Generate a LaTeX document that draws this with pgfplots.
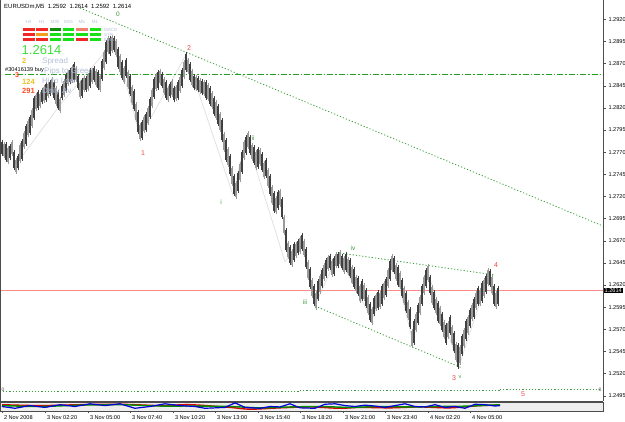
\documentclass[border=0pt]{standalone}
\usepackage{pgfplots}
\pgfplotsset{compat=1.18}
\usepackage{pgfplotstable}
\usepackage{fontspec}
\setmainfont{Liberation Sans}
\definecolor{dotgreen}{HTML}{3CA03C}
\definecolor{dashgreen}{HTML}{22A022}
\definecolor{pinkline}{HTML}{FF8A8A}
\definecolor{lbl}{HTML}{B4C0D8}
\definecolor{bignum}{HTML}{3CE03C}
\definecolor{yel}{HTML}{F0C020}
\definecolor{ored}{HTML}{FF4A20}
\definecolor{wred}{HTML}{F04848}
\definecolor{wgreen}{HTML}{3C9A3C}
\definecolor{pred}{HTML}{F02828}
\definecolor{pdgreen}{HTML}{108A10}
\definecolor{pgreen}{HTML}{18E018}
\definecolor{porange}{HTML}{F0A020}
\definecolor{psalmon}{HTML}{F08070}
\definecolor{barcol}{HTML}{404040}
\definecolor{barcolb}{HTML}{9A9A9A}

% bars (dark)
\pgfplotstableread{
x y e
2 1.27747 0.00072
6 1.27702 0.00088
10 1.27702 0.00072
14 1.27611 0.00088
18 1.27589 0.00072
22 1.27724 0.00100
26 1.27894 0.00100
30 1.28007 0.00088
34 1.28199 0.00112
38 1.28289 0.00088
42 1.28334 0.00072
46 1.28379 0.00088
50 1.28424 0.00072
54 1.28402 0.00088
58 1.28289 0.00088
62 1.28379 0.00072
66 1.28481 0.00088
70 1.28560 0.00072
74 1.28605 0.00088
78 1.28492 0.00072
82 1.28424 0.00088
86 1.28470 0.00072
90 1.28537 0.00088
94 1.28582 0.00072
98 1.28515 0.00088
102 1.28628 0.00100
106 1.28831 0.00112
110 1.28899 0.00088
114 1.28921 0.00072
118 1.28763 0.00100
122 1.28628 0.00088
126 1.28650 0.00088
130 1.28458 0.00100
134 1.28289 0.00100
138 1.28040 0.00112
142 1.27950 0.00088
146 1.28040 0.00088
150 1.28199 0.00100
154 1.28424 0.00100
158 1.28515 0.00088
162 1.28515 0.00072
166 1.28402 0.00088
170 1.28402 0.00072
174 1.28357 0.00072
178 1.28402 0.00088
182 1.28537 0.00088
186 1.28718 0.00090
190 1.28605 0.00088
194 1.28492 0.00072
198 1.28470 0.00072
202 1.28436 0.00072
206 1.28402 0.00088
210 1.28334 0.00088
214 1.28221 0.00088
218 1.28119 0.00100
222 1.27950 0.00112
226 1.27724 0.00112
230 1.27555 0.00100
234 1.27329 0.00100
238 1.27363 0.00100
242 1.27589 0.00112
246 1.27781 0.00090
250 1.27781 0.00088
254 1.27668 0.00088
258 1.27634 0.00100
262 1.27589 0.00088
266 1.27521 0.00088
270 1.27329 0.00100
274 1.27137 0.00100
278 1.27160 0.00088
282 1.27069 0.00100
286 1.26708 0.00112
290 1.26539 0.00088
294 1.26572 0.00088
298 1.26629 0.00072
302 1.26685 0.00080
306 1.26505 0.00100
310 1.26279 0.00100
314 1.26087 0.00100
318 1.26143 0.00100
322 1.26279 0.00088
326 1.26392 0.00088
330 1.26460 0.00072
334 1.26414 0.00088
338 1.26482 0.00072
342 1.26460 0.00072
346 1.26460 0.00088
350 1.26392 0.00088
354 1.26279 0.00100
358 1.26189 0.00088
362 1.26143 0.00100
366 1.26053 0.00088
370 1.25895 0.00090
374 1.25963 0.00088
378 1.26030 0.00088
382 1.26087 0.00100
386 1.26177 0.00088
390 1.26369 0.00100
394 1.26426 0.00080
398 1.26301 0.00100
402 1.26166 0.00088
406 1.26008 0.00100
410 1.25827 0.00100
414 1.25669 0.00120
418 1.25872 0.00100
422 1.26087 0.00100
426 1.26279 0.00090
430 1.26200 0.00088
434 1.26030 0.00088
438 1.25895 0.00100
442 1.25782 0.00088
446 1.25647 0.00100
450 1.25748 0.00088
454 1.25556 0.00100
458 1.25398 0.00120
462 1.25522 0.00100
466 1.25692 0.00100
470 1.25827 0.00088
474 1.25940 0.00100
478 1.26076 0.00088
482 1.26121 0.00100
486 1.26211 0.00088
490 1.26279 0.00075
494 1.26087 0.00100
498 1.26076 0.00088
}\bars

% bars in between (lighter)
\pgfplotstableread{
x y e
4 1.27724 0.00070
8 1.27668 0.00080
12 1.27747 0.00065
16 1.27544 0.00070
20 1.27690 0.00085
24 1.27837 0.00080
28 1.27973 0.00075
32 1.28086 0.00090
36 1.28266 0.00080
40 1.28289 0.00070
44 1.28357 0.00080
48 1.28402 0.00065
52 1.28447 0.00075
56 1.28334 0.00085
60 1.28232 0.00070
64 1.28424 0.00080
68 1.28537 0.00070
72 1.28582 0.00075
76 1.28582 0.00065
80 1.28402 0.00080
84 1.28470 0.00070
88 1.28492 0.00075
92 1.28560 0.00065
96 1.28537 0.00080
100 1.28481 0.00075
104 1.28741 0.00090
108 1.28910 0.00080
112 1.28921 0.00075
116 1.28876 0.00080
120 1.28695 0.00085
124 1.28571 0.00080
128 1.28515 0.00085
132 1.28345 0.00085
136 1.28153 0.00090
140 1.27928 0.00080
144 1.28018 0.00075
148 1.28119 0.00085
152 1.28311 0.00090
156 1.28492 0.00080
160 1.28549 0.00070
164 1.28447 0.00075
168 1.28357 0.00070
172 1.28424 0.00075
176 1.28368 0.00070
180 1.28470 0.00080
184 1.28628 0.00085
188 1.28673 0.00070
192 1.28537 0.00075
196 1.28481 0.00065
200 1.28447 0.00070
204 1.28424 0.00070
208 1.28379 0.00075
212 1.28289 0.00080
216 1.28176 0.00085
220 1.28040 0.00090
224 1.27815 0.00095
228 1.27645 0.00090
232 1.27431 0.00090
236 1.27273 0.00080
240 1.27476 0.00090
244 1.27724 0.00085
248 1.27837 0.00075
252 1.27702 0.00080
256 1.27611 0.00085
260 1.27645 0.00075
264 1.27498 0.00080
268 1.27408 0.00085
272 1.27216 0.00085
276 1.27103 0.00080
280 1.27182 0.00075
284 1.26877 0.00095
288 1.26595 0.00080
292 1.26505 0.00075
296 1.26595 0.00070
300 1.26652 0.00075
304 1.26618 0.00080
308 1.26369 0.00090
312 1.26166 0.00085
316 1.26030 0.00085
320 1.26211 0.00085
324 1.26347 0.00075
328 1.26448 0.00070
332 1.26392 0.00075
336 1.26482 0.00070
340 1.26505 0.00065
344 1.26426 0.00075
348 1.26414 0.00075
352 1.26313 0.00085
356 1.26211 0.00080
360 1.26109 0.00085
364 1.26121 0.00080
368 1.25974 0.00085
372 1.25850 0.00075
376 1.26008 0.00080
380 1.26030 0.00075
384 1.26143 0.00085
388 1.26279 0.00085
392 1.26448 0.00075
396 1.26347 0.00080
400 1.26256 0.00080
404 1.26076 0.00085
408 1.25918 0.00090
412 1.25601 0.00085
416 1.25782 0.00090
420 1.25974 0.00090
424 1.26200 0.00085
428 1.26335 0.00075
432 1.26087 0.00085
436 1.25963 0.00080
440 1.25850 0.00085
444 1.25692 0.00085
448 1.25692 0.00080
452 1.25635 0.00085
456 1.25443 0.00095
460 1.25409 0.00090
464 1.25601 0.00090
468 1.25748 0.00085
472 1.25895 0.00080
476 1.26030 0.00085
480 1.26064 0.00075
484 1.26166 0.00085
488 1.26290 0.00075
492 1.26200 0.00090
496 1.26030 0.00080
}\barsb

\begin{document}
\begin{tikzpicture}
\path[use as bounding box, fill=white] (0pt,0pt) rectangle (625pt,422pt);
% ---------------- main price window ----------------
\begin{axis}[at={(0pt,422pt)}, anchor=north west, scale only axis,
  width=603pt, height=401pt,
  xmin=0, xmax=603, ymin=1.24890, ymax=1.29418,
  axis x line*=bottom, axis y line*=right,
  axis line style={black!70, line width=0.6pt},
  xtick=\empty,
  ytick={1.2495,1.2520,1.2545,1.2570,1.2595,1.2620,1.2645,1.2670,1.2695,1.2720,1.2745,1.2770,1.2795,1.2820,1.2845,1.2870,1.2895,1.2920},
  tick align=outside, major tick length=2.5pt, tick style={black!70},
  yticklabel style={font=\fontsize{5.6}{6}\selectfont, anchor=west, xshift=-0.5pt,
    /pgf/number format/.cd, fixed, fixed zerofill, precision=4, assume math mode=true},
  clip=true]
% faint zigzag
\addplot[gray!25, line width=0.7pt, mark=none] coordinates {
(15,1.27544) (60,1.28232) (115,1.28966) (140,1.27871) (186,1.28797) (233,1.27216)
(246,1.27871) (285,1.26460) (302,1.26742) (315,1.25974) (338,1.26539) (372,1.25805)
(393,1.26482) (413,1.25556) (427,1.26369) (459,1.25285) (490,1.26347)};
% current price line
\addplot[pinkline, line width=1.4pt, mark=none] coordinates {(0,1.2614) (603,1.2614)};
% trend lines
\addplot[dotgreen, line width=0.8pt, dash pattern=on 1.2pt off 2pt, mark=none] coordinates {(80,1.29328) (603,1.26866)};
\addplot[dotgreen, line width=0.8pt, dash pattern=on 1.2pt off 2pt, mark=none] coordinates {(315,1.25963) (462,1.25263)};
\addplot[dotgreen, line width=0.8pt, dash pattern=on 1.2pt off 2pt, mark=none] coordinates {(340,1.26561) (495,1.26313)};
\addplot[dotgreen, line width=0.7pt, dash pattern=on 1.2pt off 2pt, mark=none] coordinates {(3,1.24995) (300,1.24995)};
\addplot[dotgreen, line width=0.7pt, dash pattern=on 1.2pt off 2pt, mark=none] coordinates {(300,1.25008) (500,1.25008)};
\addplot[dotgreen, line width=0.7pt, dash pattern=on 1.2pt off 2pt, mark=none] coordinates {(500,1.25022) (601,1.25022)};
% order level
\addplot[dashgreen, line width=1pt, dash pattern=on 6pt off 2pt on 1.5pt off 2pt, mark=none] coordinates {(5,1.28582) (603,1.28582)};
% price bars (high-low ranges)
\addplot[barcolb, draw=none, mark=none, error bars/.cd, y dir=both, y explicit,
  error mark options={draw=none},
  error bar style={draw=barcolb, solid, line width=1.4pt}] table[x=x, y=y, y error=e] {\barsb};
\addplot[barcol, draw=none, mark=none, error bars/.cd, y dir=both, y explicit,
  error mark options={draw=none},
  error bar style={draw=barcol, solid, line width=1.4pt}] table[x=x, y=y, y error=e] {\bars};
\end{axis}
% ---------------- indicator sub-window ----------------
\begin{axis}[at={(0pt,20pt)}, anchor=north west, scale only axis,
  width=603pt, height=9pt, xmin=0, xmax=603, ymin=0, ymax=1,
  axis line style={black!70, line width=0.5pt},
  axis background/.style={fill=gray!14},
  ytick=\empty,
  xtick={2,45,88,130,173,215,258,300,343,385,428,470},
  xticklabels={2 Nov 2008,3 Nov 02:20,3 Nov 05:00,3 Nov 07:40,3 Nov 10:20,3 Nov 13:00,3 Nov 15:40,3 Nov 18:20,3 Nov 21:00,3 Nov 23:40,4 Nov 02:20,4 Nov 05:00},
  xtick pos=bottom, tick align=outside, major tick length=2pt, tick style={black!70},
  xticklabel style={font=\fontsize{5.6}{6}\selectfont, anchor=north west, xshift=-1.5pt, yshift=0.5pt},
  clip=true]
\addplot[red!85!black, line width=1.4pt, smooth, mark=none] coordinates {
(2,0.7) (40,0.6) (80,0.7) (120,0.75) (160,0.6) (190,0.7) (230,0.4) (250,0.2) (280,0.35)
(310,0.45) (340,0.3) (360,0.4) (390,0.35) (420,0.45) (450,0.35) (480,0.6) (500,0.65)};
\addplot[green!55!black, line width=1.4pt, smooth, mark=none] coordinates {
(2,0.6) (40,0.5) (80,0.65) (120,0.7) (160,0.55) (190,0.55) (230,0.5) (260,0.35) (290,0.45)
(320,0.5) (350,0.4) (380,0.5) (410,0.45) (440,0.5) (470,0.55) (500,0.7)};
\addplot[blue!85!black, line width=1.2pt, mark=none] coordinates {
(2,0.5) (15,0.3) (30,0.6) (45,0.4) (60,0.7) (75,0.5) (90,0.8) (105,0.6) (120,0.8) (135,0.3)
(150,0.5) (165,0.8) (180,0.6) (195,0.5) (205,0.3) (215,0.35) (225,0.4) (235,0.9) (245,0.4)
(260,0.3) (270,0.5) (280,0.45) (290,0.8) (300,0.35) (315,0.3) (325,0.75) (335,0.8) (345,0.6)
(355,0.5) (365,0.65) (375,0.55) (385,0.4) (395,0.6) (405,0.8) (415,0.5) (425,0.45) (435,0.7)
(445,0.4) (455,0.5) (465,0.3) (475,0.75) (485,0.7) (495,0.55) (500,0.6)};
\end{axis}
% ---------------- overlays in pixel coordinates ----------------
\begin{scope}[x=1pt, y=-1pt, shift={(0pt,422pt)}]
\draw[black!70, line width=0.6pt] (0.3,0) -- (0.3,401);
% current price box
\node[fill=black, text=white, anchor=west, inner xsep=1pt, inner ysep=1pt,
  font=\fontsize{5.6}{6}\selectfont] at (603.5,290.5) {1.2614};
% header
\node[anchor=base west, inner sep=0, font=\fontsize{6}{7}\selectfont] at (4,8.5)
  {EURUSDm,M5\ \ 1.2592\ \ 1.2614\ \ 1.2592\ \ 1.2614};
% signal panel
\foreach \lab [count=\i from 0] in {H4,H1,M30,M15,M5,M1}
  \node[font=\fontsize{4.5}{5}\selectfont, text=lbl, inner sep=0] at (28.5+13.3*\i,22) {\lab};
\foreach \c [count=\i from 0] in {pred,pred,pdgreen,pgreen,psalmon,pgreen}
  \fill[\c] (23+13.3*\i,28) rectangle (34.5+13.3*\i,31);
\foreach \c [count=\i from 0] in {pred,porange,pgreen,pgreen,pgreen,pgreen}
  \fill[\c] (23+13.3*\i,33) rectangle (34.5+13.3*\i,36);
\foreach \c [count=\i from 0] in {pred,pred,pgreen,pgreen,pred,pgreen}
  \fill[\c] (23+13.3*\i,38) rectangle (34.5+13.3*\i,41);
\node[font=\fontsize{4.5}{5}\selectfont, text=lbl, anchor=west, inner sep=0] at (104,29.5) {MACD};
\node[font=\fontsize{4.5}{5}\selectfont, text=lbl, anchor=west, inner sep=0] at (104,34.5) {STR};
\node[font=\fontsize{4.5}{5}\selectfont, text=lbl, anchor=west, inner sep=0] at (104,39.5) {EMA};
\node[font=\fontsize{13}{14}\selectfont, text=bignum, anchor=base west, inner sep=0] at (21.5,55) {1.2614};
\node[font=\fontsize{7.5}{8}\selectfont\bfseries, text=yel, anchor=base west, inner sep=0] at (22,63.5) {2};
\node[font=\fontsize{8}{9}\selectfont, text=lbl, anchor=base west, inner sep=0] at (42,63.5) {Spread};
\node[font=\fontsize{7}{8}\selectfont\bfseries, text=ored, anchor=base west, inner sep=0] at (15,77.5) {3};
\node[font=\fontsize{8}{9}\selectfont, text=lbl, anchor=base west, inner sep=0] at (44,74) {Pips to Green};
\node[font=\fontsize{5.6}{7}\selectfont, anchor=base west, inner sep=0] at (5,71.5) {\#30416139 buy};
\node[font=\fontsize{7.5}{8}\selectfont\bfseries, text=yel, anchor=base west, inner sep=0] at (22,84.5) {124};
\node[font=\fontsize{8}{9}\selectfont, text=lbl, anchor=base west, inner sep=0] at (42,84) {Hi to Low};
\node[font=\fontsize{7.5}{8}\selectfont\bfseries, text=ored, anchor=base west, inner sep=0] at (22,93.5) {291};
\node[font=\fontsize{8}{9}\selectfont, text=lbl, anchor=base west, inner sep=0] at (42,93.5) {Daily Av};
% wave labels
\node[font=\fontsize{6.5}{7}\selectfont, text=wgreen, inner sep=0] at (118,14) {0};
\node[font=\fontsize{7}{8}\selectfont, text=wred, inner sep=0] at (189,48) {2};
\node[font=\fontsize{7}{8}\selectfont, text=wred, inner sep=0] at (143,153) {1};
\node[font=\fontsize{6.5}{7}\selectfont, text=wgreen, inner sep=0] at (221,202) {i};
\node[font=\fontsize{6.5}{7}\selectfont, text=wgreen, inner sep=0] at (253,138) {ii};
\node[font=\fontsize{6.5}{7}\selectfont, text=wgreen, inner sep=0] at (305,302) {iii};
\node[font=\fontsize{6.5}{7}\selectfont, text=wgreen, inner sep=0] at (353,248) {iv};
\node[font=\fontsize{7}{8}\selectfont, text=wred, inner sep=0] at (496,265) {4};
\node[font=\fontsize{7}{8}\selectfont, text=wred, inner sep=0] at (454,378) {3};
\node[font=\fontsize{5.5}{6}\selectfont, text=wgreen, inner sep=0] at (460,377) {v};
\node[font=\fontsize{7}{8}\selectfont, text=wred, inner sep=0] at (523,394) {5};
\node[font=\fontsize{5}{6}\selectfont, text=black!70, inner sep=0] at (3,390) {0};
\node[font=\fontsize{5}{6}\selectfont, text=black!70, inner sep=0] at (600,390) {0};
\end{scope}
\end{tikzpicture}
\end{document}
